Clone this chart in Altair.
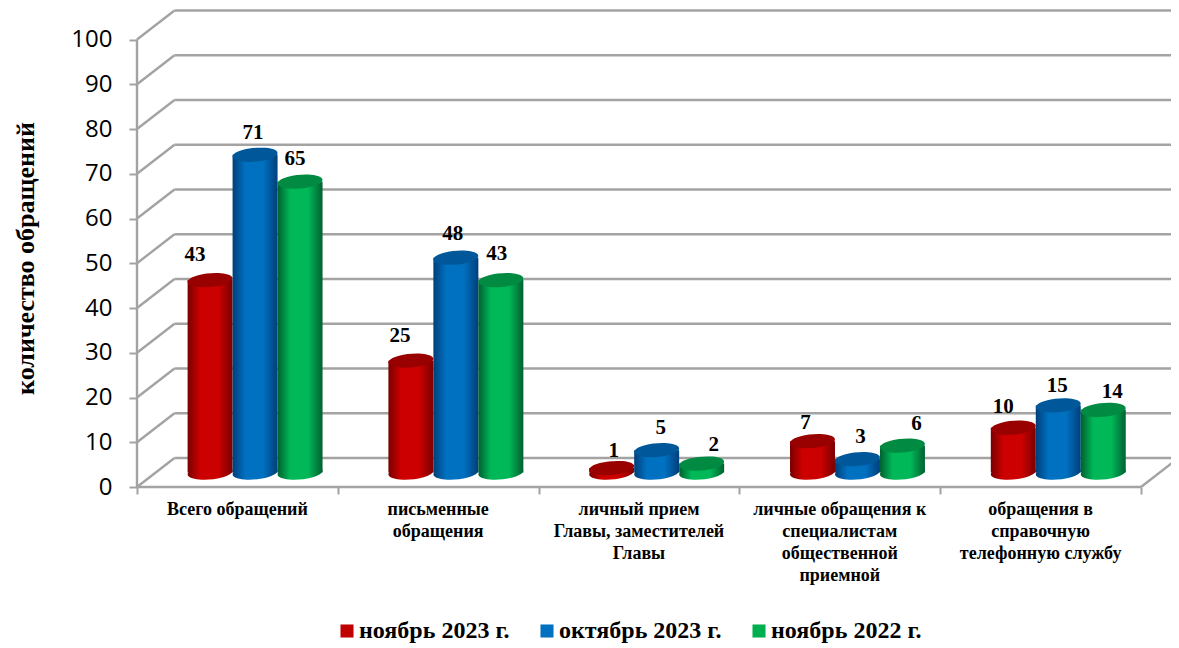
import altair as alt
import pandas as pd

categories = ["Всего обращений", "письменные\nобращения", "личный прием\nГлавы, заместителей\nГлавы",
              "личные обращения к\nспециалистам\nобщественной\nприемной", "обращения в\nсправочную\nтелефонную службу"]
series_names = ["ноябрь 2023 г.", "октябрь 2023 г.", "ноябрь  2022 г."]
nov23 = [43, 25, 1, 7, 10]
oct23 = [71, 48, 5, 3, 15]
nov22 = [65, 43, 2, 6, 14]
y_ticks = list(range(0, 101, 10))
y_title = "количество обращений"

W, H = 1163, 640
PX_U, PX_V = 200.8, 4.475
X0, Y0 = 129, 479
xs = alt.Scale(domain=[-X0 / PX_U, (W - X0) / PX_U], range=[0, W], nice=False, zero=False)
ys = alt.Scale(domain=[(Y0 - H) / PX_V, Y0 / PX_V], range=[H, 0], nice=False, zero=False)
DU, DV = 37.5 / PX_U, 29 / PX_V
BASE = 14.5 / PX_V
GRID = "#a3a3a3"
SERIF = "Liberation Serif"
SANS = "Open Sans"
CAP = "M-0.996,0.087 A1,0.3,-5,1,1,0.996,-0.087 A1,0.3,-5,1,1,-0.996,0.087 Z"
colors = [("#7a0000", "#cc0000", "#a00000", "#990000"),
          ("#003f7a", "#0070c0", "#005a9c", "#00589a"),
          ("#006030", "#00b858", "#008c42", "#008a42")]
nudges = [[(-15, -25), (-11, -25), (2, -17), (-7, -18), (-10, -21)],
          [(-2, -22), (-3, -24), (4, -22), (3, -22), (-1, -19)],
          [(-5, -23), (-4, -26), (12, -19), (14, -22), (9, -18)]]


def X(f):
    return alt.X(f, type="quantitative", scale=xs)


def Y(f):
    return alt.Y(f, type="quantitative", scale=ys)


def segs(rows):
    return pd.DataFrame(rows, columns=["x", "x2", "y", "y2"])


rule_style = dict(color=GRID, strokeWidth=2.4)
seg_enc = dict(x=X("x"), x2="x2:Q", y=Y("y"), y2="y2:Q")

axes = alt.Chart(pd.DataFrame({"x": [0.5], "y": [0]})).mark_point(opacity=0).encode(
    x=alt.X("x:Q", scale=xs, axis=alt.Axis(values=[0, 1, 2, 3, 4, 5], labels=False, title=None, grid=False, domain=False,
                                           ticks=True, tickColor=GRID, tickWidth=2, tickSize=7, offset=Y0 - H)),
    y=alt.Y("y:Q", scale=ys, axis=alt.Axis(values=y_ticks, grid=False, domain=False, tickColor=GRID, tickWidth=2, tickSize=8,
                                           labelFont=SANS, labelFontSize=24, labelColor="#000000", labelPadding=17,
                                           offset=-X0, title=y_title, titleFont=SERIF, titleFontSize=26, titleFontWeight="bold",
                                           titleColor="#000000", titleX=-112, titleY=250, titleAngle=270,
                                           titleAlign="center", titleBaseline="middle")),
)

back = alt.Chart(segs([(DU, 5 + DU + 0.01, v + DV, v + DV) for v in y_ticks])).mark_rule(**rule_style).encode(**seg_enc)
side = alt.Chart(segs([(0, DU, v, v + DV) for v in y_ticks])).mark_rule(**rule_style).encode(**seg_enc)
frame = alt.Chart(segs([(0, 0, 0, 100), (0, 5, 0, 0), (5, 5 + DU, 0, DV)])).mark_rule(**rule_style).encode(**seg_enc)

layers = [axes, back, side, frame]

for s, vals in enumerate([nov23, oct23, nov22]):
    edge, mid, _, top = colors[s]
    grad = alt.Gradient(gradient="linear", x1=0, x2=1, y1=0, y2=0,
                        stops=[alt.GradientStop(offset=0, color=edge),
                               alt.GradientStop(offset=0.28, color=mid),
                               alt.GradientStop(offset=0.68, color=mid),
                               alt.GradientStop(offset=1, color=edge)])
    rows = []
    for i, v in enumerate(vals):
        c = i + 0.588 + (s - 1) * 0.224
        rows.append({"c": c, "l": c - 0.112, "r": c + 0.112, "b": BASE, "t": v + BASE})
    d = pd.DataFrame(rows)
    chart = alt.Chart(d)
    layers.append(chart.mark_point(shape=CAP, size=2025, filled=True, fill=grad, stroke=None, opacity=1).encode(
        x=X("c"), y=Y("b")))
    layers.append(chart.mark_rect(fill=grad).encode(x=X("l"), x2="r:Q", y=Y("t"), y2="b:Q"))
    layers.append(chart.mark_point(shape=CAP, size=2025, filled=True, fill=top, stroke=None, opacity=1).encode(
        x=X("c"), y=Y("t")))

for s, vals in enumerate([nov23, oct23, nov22]):
    for i, v in enumerate(vals):
        c = i + 0.588 + (s - 1) * 0.224
        dx, dy = nudges[s][i]
        layers.append(alt.Chart(pd.DataFrame({"c": [c], "t": [v + BASE], "v": [v]})).mark_text(
            font=SERIF, fontSize=21, fontWeight="bold", color="#000000", dx=dx, dy=dy, baseline="middle").encode(
            x=X("c"), y=Y("t"), text="v:Q"))

cat = pd.DataFrame({"c": [i + 0.5 for i in range(5)], "label": categories})
layers.append(alt.Chart(cat).mark_text(font=SERIF, fontSize=18, fontWeight="bold", color="#000000", lineBreak="\n",
                                       lineHeight=22, baseline="top", align="center").encode(
    x=X("c"), y=alt.value(493), text="label:N"))

leg = pd.DataFrame({"name": series_names, "c": [0, 1, 2], "y": [0, 0, 0]})
layers.append(alt.Chart(leg).mark_point(opacity=0, filled=True, shape="square").encode(
    x=X("c"), y=Y("y"),
    color=alt.Color("name:N", scale=alt.Scale(domain=series_names, range=["#c00000", "#0070c0", "#00b050"]),
                    legend=alt.Legend(orient="none", legendX=327, legendY=611, direction="horizontal", columns=3, title=None,
                                      symbolType="square", symbolSize=170, symbolOpacity=1, symbolStrokeWidth=0,
                                      labelFont=SERIF, labelFontSize=24, labelFontWeight="bold", labelColor="#000000",
                                      labelOffset=0, columnPadding=25, labelLimit=300))))

chart = alt.layer(*layers).properties(width=W, height=H, padding=0, background="#ffffff",
                                      autosize=alt.AutoSizeParams(type="none")).configure_view(stroke=None)
chart.save("out.html", embed_options={"renderer": "svg", "actions": False})
